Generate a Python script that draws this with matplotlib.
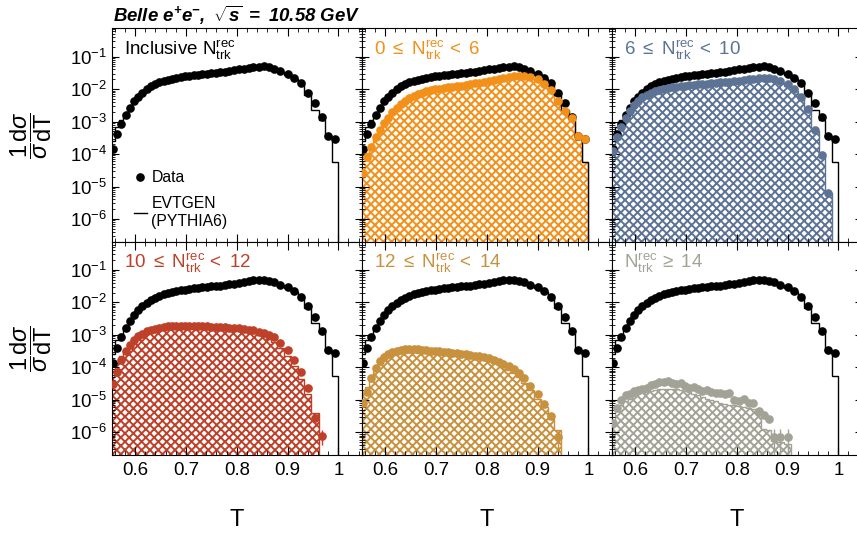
import numpy as np
import matplotlib
matplotlib.use('Agg')
import matplotlib.pyplot as plt
from matplotlib.lines import Line2D
from matplotlib.ticker import FixedLocator, FixedFormatter, MultipleLocator, LogLocator, NullFormatter

plt.rcParams['font.family'] = ['Liberation Sans', 'DejaVu Sans']
plt.rcParams['mathtext.fontset'] = 'custom'
plt.rcParams['mathtext.rm'] = 'Liberation Sans'
plt.rcParams['mathtext.it'] = 'Liberation Sans:italic'
plt.rcParams['mathtext.bf'] = 'Liberation Sans:bold:italic'
plt.rcParams['hatch.linewidth'] = 1.4

# thrust bin edges
edges = [0.553, 0.561, 0.569, 0.577, 0.586, 0.594, 0.602, 0.610, 0.619, 0.627,
         0.635, 0.644, 0.652, 0.660, 0.669, 0.677, 0.686, 0.694, 0.703, 0.711,
         0.720, 0.728, 0.737, 0.746, 0.754, 0.763, 0.772, 0.781, 0.790, 0.799,
         0.809, 0.819, 0.828, 0.838, 0.848, 0.858, 0.868, 0.879, 0.893, 0.907,
         0.920, 0.933, 0.946, 0.961, 0.974, 0.987, 1.000]

# inclusive N_trk (black, shown in every panel)
incl_data = [1.4e-4, 4.1e-4, 8.5e-4, 1.6e-3, 2.6e-3, 4.2e-3, 5.8e-3, 7.8e-3, 9.8e-3, 1.2e-2,
             1.4e-2, 1.6e-2, 1.8e-2, 1.95e-2, 2.1e-2, 2.25e-2, 2.4e-2, 2.5e-2, 2.6e-2, 2.7e-2,
             2.8e-2, 2.9e-2, 3.0e-2, 3.1e-2, 3.2e-2, 3.3e-2, 3.45e-2, 3.6e-2, 3.8e-2, 4.0e-2,
             4.25e-2, 4.5e-2, 4.75e-2, 4.9e-2, 4.95e-2, 4.7e-2, 4.2e-2, 3.5e-2, 2.9e-2, 2.2e-2,
             1.5e-2, 7.7e-3, 3.6e-3, 1.35e-3, 3.5e-4, 2.8e-4]
incl_mc = [2.5e-4, 7e-4, 1.1e-3, 1.7e-3, 2.7e-3, 4.1e-3, 5.7e-3, 7.6e-3, 9.6e-3, 1.18e-2,
           1.38e-2, 1.58e-2, 1.78e-2, 1.93e-2, 2.08e-2, 2.23e-2, 2.38e-2, 2.48e-2, 2.58e-2, 2.68e-2,
           2.78e-2, 2.88e-2, 2.98e-2, 3.08e-2, 3.18e-2, 3.28e-2, 3.42e-2, 3.58e-2, 3.78e-2, 3.98e-2,
           4.22e-2, 4.47e-2, 4.72e-2, 4.88e-2, 4.92e-2, 4.68e-2, 4.15e-2, 3.45e-2, 2.8e-2, 2.05e-2,
           1.4e-2, 6.6e-3, 2.3e-3, 1.15e-3, 3.3e-4, 5.5e-5]

# 0 <= N < 6
n0_data = [2.6e-5, 8.0e-5, 1.7e-4, 3.3e-4, 5.6e-4, 8.8e-4, 1.3e-3, 1.9e-3, 2.6e-3, 3.4e-3,
           4.3e-3, 5.2e-3, 6.1e-3, 7.0e-3, 7.8e-3, 8.5e-3, 9.1e-3, 9.7e-3, 1.02e-2, 1.07e-2,
           1.12e-2, 1.17e-2, 1.22e-2, 1.28e-2, 1.34e-2, 1.40e-2, 1.48e-2, 1.56e-2, 1.65e-2, 1.75e-2,
           1.87e-2, 2.00e-2, 2.15e-2, 2.30e-2, 2.45e-2, 2.55e-2, 2.50e-2, 2.30e-2, 2.00e-2, 1.40e-2,
           9.1e-3, 4.3e-3, 2.1e-3, 1.3e-3, 3.7e-4, 2.8e-4]
n0_mc = [6e-5, 1.1e-4, 1.8e-4, 3.0e-4, 5.0e-4, 7.9e-4, 1.17e-3, 1.7e-3, 2.35e-3, 3.1e-3,
         3.9e-3, 4.7e-3, 5.5e-3, 6.3e-3, 7.0e-3, 7.6e-3, 8.2e-3, 8.7e-3, 9.2e-3, 9.6e-3,
         1.01e-2, 1.05e-2, 1.1e-2, 1.15e-2, 1.2e-2, 1.26e-2, 1.33e-2, 1.4e-2, 1.48e-2, 1.57e-2,
         1.68e-2, 1.8e-2, 1.93e-2, 2.07e-2, 2.2e-2, 2.3e-2, 2.25e-2, 2.07e-2, 1.8e-2, 1.3e-2,
         8.5e-3, 4.0e-3, 1.9e-3, 1.05e-3, 3.3e-4, 5.5e-5]

# 6 <= N < 10
n6_data = [1.2e-4, 3.4e-4, 7.0e-4, 1.3e-3, 2.1e-3, 3.2e-3, 4.3e-3, 5.5e-3, 6.6e-3, 7.6e-3,
           8.5e-3, 9.3e-3, 1.0e-2, 1.06e-2, 1.12e-2, 1.17e-2, 1.22e-2, 1.26e-2, 1.3e-2, 1.34e-2,
           1.38e-2, 1.42e-2, 1.46e-2, 1.5e-2, 1.54e-2, 1.59e-2, 1.64e-2, 1.7e-2, 1.76e-2, 1.83e-2,
           1.9e-2, 1.98e-2, 2.06e-2, 2.14e-2, 2.2e-2, 2.2e-2, 2.1e-2, 1.75e-2, 1.4e-2, 9.8e-3,
           5.7e-3, 2.4e-3, 5.4e-4, 9.3e-5, 6.5e-6]
n6_mc = [1.3e-4, 3.2e-4, 6.4e-4, 1.18e-3, 1.9e-3, 2.9e-3, 3.9e-3, 5.0e-3, 6.0e-3, 6.9e-3,
         7.7e-3, 8.4e-3, 9.0e-3, 9.6e-3, 1.01e-2, 1.06e-2, 1.1e-2, 1.14e-2, 1.18e-2, 1.21e-2,
         1.25e-2, 1.28e-2, 1.32e-2, 1.35e-2, 1.39e-2, 1.43e-2, 1.48e-2, 1.53e-2, 1.59e-2, 1.65e-2,
         1.71e-2, 1.78e-2, 1.85e-2, 1.93e-2, 1.98e-2, 1.98e-2, 1.89e-2, 1.58e-2, 1.26e-2, 8.8e-3,
         5.2e-3, 2.2e-3, 5.0e-4, 9e-5, 6.5e-6]

# 10 <= N < 12
n10_data = [3.0e-5, 7.4e-5, 1.7e-4, 3.1e-4, 4.9e-4, 7.0e-4, 9.0e-4, 1.1e-3, 1.28e-3, 1.43e-3,
            1.57e-3, 1.68e-3, 1.77e-3, 1.83e-3, 1.87e-3, 1.89e-3, 1.9e-3, 1.9e-3, 1.89e-3, 1.88e-3,
            1.86e-3, 1.84e-3, 1.82e-3, 1.8e-3, 1.77e-3, 1.74e-3, 1.71e-3, 1.67e-3, 1.63e-3, 1.58e-3,
            1.52e-3, 1.45e-3, 1.37e-3, 1.27e-3, 1.15e-3, 1.0e-3, 8.5e-4, 5.6e-4, 3.4e-4, 1.7e-4,
            7.4e-5, 2.3e-5, 2.8e-6, 8e-7]
n10_mc = [8e-5, 1.4e-4, 2.2e-4, 3.3e-4, 4.7e-4, 6.4e-4, 8.2e-4, 1.0e-3, 1.18e-3, 1.33e-3,
          1.46e-3, 1.56e-3, 1.64e-3, 1.7e-3, 1.73e-3, 1.75e-3, 1.75e-3, 1.74e-3, 1.73e-3, 1.72e-3,
          1.7e-3, 1.68e-3, 1.66e-3, 1.63e-3, 1.6e-3, 1.57e-3, 1.54e-3, 1.5e-3, 1.46e-3, 1.41e-3,
          1.35e-3, 1.27e-3, 1.18e-3, 1.07e-3, 9.3e-4, 7.7e-4, 5.9e-4, 4.0e-4, 2.3e-4, 1.1e-4,
          4.5e-5, 1.5e-5, 4e-6]
n10_err = {44: 4e-7}

# 12 <= N < 14
n12_data = [8e-6, 1.8e-5, 4.6e-5, 9.8e-5, 1.6e-4, 2.1e-4, 2.6e-4, 3.0e-4, 3.25e-4, 3.45e-4,
            3.6e-4, 3.65e-4, 3.65e-4, 3.6e-4, 3.5e-4, 3.4e-4, 3.3e-4, 3.2e-4, 3.1e-4, 3.0e-4,
            2.9e-4, 2.8e-4, 2.7e-4, 2.6e-4, 2.5e-4, 2.4e-4, 2.3e-4, 2.2e-4, 2.05e-4, 1.9e-4,
            1.7e-4, 1.5e-4, 1.3e-4, 1.1e-4, 8.8e-5, 6.6e-5, 4.6e-5, 2.7e-5, 1.5e-5, 7.6e-6,
            3.2e-6, 7e-7]
n12_mc = [1.6e-5, 2.5e-5, 4.5e-5, 8e-5, 1.3e-4, 1.7e-4, 2.1e-4, 2.4e-4, 2.6e-4, 2.75e-4,
          2.85e-4, 2.9e-4, 2.9e-4, 2.85e-4, 2.8e-4, 2.75e-4, 2.7e-4, 2.6e-4, 2.5e-4, 2.45e-4,
          2.4e-4, 2.3e-4, 2.25e-4, 2.15e-4, 2.05e-4, 2.0e-4, 1.9e-4, 1.8e-4, 1.7e-4, 1.55e-4,
          1.4e-4, 1.25e-4, 1.05e-4, 8.5e-5, 6.8e-5, 5.0e-5, 3.4e-5, 2.0e-5, 1.1e-5, 6e-6,
          2.6e-6, 1.2e-6]
n12_err = {42: 4e-7}

# N >= 14
n14_data = [1.9e-6, 5.7e-6, 1.0e-5, 1.4e-5, 1.5e-5, 1.9e-5, 2.0e-5, 2.2e-5, 2.3e-5, 2.8e-5,
            3.0e-5, 3.6e-5, 3.5e-5, 3.7e-5, 3.3e-5, 3.1e-5, 3.2e-5, 2.6e-5, 2.4e-5, 2.5e-5,
            2.1e-5, 1.9e-5, 2.0e-5, 1.7e-5, 1.6e-5, 1.6e-5, 1.55e-5, 1.6e-5, 9.8e-6, 9.5e-6,
            1.05e-5, 8.1e-6, 8.3e-6, 4.6e-6, 3.4e-6, 2.6e-6, 7e-7, 7e-7, 7e-7]
n14_mc = [2.2e-6, 4.5e-6, 7e-6, 9e-6, 1.1e-5, 1.3e-5, 1.5e-5, 1.6e-5, 1.75e-5, 1.9e-5,
          2.0e-5, 2.1e-5, 2.15e-5, 2.2e-5, 2.2e-5, 2.1e-5, 2.0e-5, 1.9e-5, 1.7e-5, 1.5e-5,
          1.4e-5, 1.25e-5, 1.1e-5, 1.0e-5, 9e-6, 8.3e-6, 7.7e-6, 7.2e-6, 6.8e-6, 6.3e-6,
          5.9e-6, 5.6e-6, 5.3e-6, 5e-6, 1.3e-6, 1.2e-6, 5.5e-7, 5e-7, 4.5e-7]
n14_err = {37: 6e-7, 38: 6e-7, 39: 6e-7}

nlab = r'\mathrm{N}^{\mathrm{rec}}_{\mathrm{trk}}'
labels = [r'Inclusive $' + nlab + '$',
          r'$0\ \leq\ ' + nlab + r'\, <\ 6$',
          r'$6\ \leq\ ' + nlab + r'\, <\ 10$',
          r'$10\ \leq\ ' + nlab + r'\, <\ 12$',
          r'$12\ \leq\ ' + nlab + r'\, <\ 14$',
          r'$' + nlab + r'\, \geq\ 14$']
colors = ['black', '#f39019', '#5c7396', '#be4029', '#c8913e', '#a2a296']
panel_data = [None, n0_data, n6_data, n10_data, n12_data, n14_data]
panel_mc = [None, n0_mc, n6_mc, n10_mc, n12_mc, n14_mc]
panel_err = [{}, {}, {}, n10_err, n12_err, n14_err]
yticks = [1e-6, 1e-5, 1e-4, 1e-3, 1e-2, 1e-1]

edges = np.array(edges)
centers = 0.5 * (edges[1:] + edges[:-1])

W, H = 857.0, 535.0
fig = plt.figure(figsize=(W / 100, H / 100), dpi=100)

for k in range(6):
    row, col = divmod(k, 3)
    x0 = 111.7 + 250 * col
    y0 = 28.3 + 213.4 * row
    ax = fig.add_axes([x0 / W, 1 - (y0 + 213.4) / H, 250 / W, 213.4 / H])
    c = colors[k]

    mc = panel_mc[k]
    if mc is not None:
        ax.stairs(mc, edges[:len(mc) + 1], baseline=1e-9, fill=True, facecolor='none',
                  edgecolor=c, hatch='xxxx', lw=1, zorder=1)
    ax.stairs(incl_mc, edges, baseline=1e-9, color='k', lw=1, zorder=2)
    ax.plot(centers, incl_data, 'o', color='k', ms=5.2, zorder=3)
    d = panel_data[k]
    if d is not None:
        ax.plot(centers[:len(d)], d, 'o', color=c, ms=5.2, zorder=4)
        for i, e in panel_err[k].items():
            ax.errorbar([centers[i - 1]], [d[i - 1]], yerr=[e], fmt='none', ecolor=c, lw=1, zorder=4)

    ax.set_yscale('log')
    ax.set_xlim(0.554, 1.046)
    ax.set_ylim(2e-7, 0.74)
    ax.xaxis.set_major_locator(FixedLocator([0.6, 0.7, 0.8, 0.9, 1.0]))
    ax.xaxis.set_major_formatter(FixedFormatter(['0.6', '0.7', '0.8', '0.9', '1']))
    ax.xaxis.set_minor_locator(MultipleLocator(0.02))
    ax.yaxis.set_major_locator(FixedLocator(yticks))
    ax.yaxis.set_minor_locator(LogLocator(base=10, subs=np.arange(2, 10), numticks=20))
    ax.yaxis.set_minor_formatter(NullFormatter())
    ax.tick_params(which='both', direction='in', top=True, right=True, labelsize=13.4)
    ax.tick_params(axis='x', which='major', length=6, pad=5)
    ax.tick_params(axis='x', which='minor', length=3)
    ax.tick_params(axis='y', which='major', length=5, pad=3)
    ax.tick_params(axis='y', which='minor', length=2.5)
    ax.tick_params(labelbottom=(row == 1), labelleft=(col == 0))
    for s in ax.spines.values():
        s.set_linewidth(0.8)

    ax.text(0.048, 0.875, labels[k], transform=ax.transAxes, color=c,
            fontsize=13.5, va='baseline')

    if k == 0:
        handles = [Line2D([], [], marker='o', ls='none', color='k', ms=5.2),
                   Line2D([], [], color='k', lw=1)]
        ax.legend(handles, ['Data', 'EVTGEN\n(PYTHIA6)'], loc='upper left',
                  bbox_to_anchor=(0.09, 0.335), frameon=False, fontsize=11.3,
                  handlelength=0.8, handletextpad=0.3, labelspacing=0.7,
                  borderpad=0, borderaxespad=0)

ylab = r'$\dfrac{1}{\sigma}\dfrac{\mathrm{d}\sigma}{\mathrm{dT}}$'
for yc in [135.0, 348.3]:
    fig.text(31 / W, 1 - yc / H, ylab, rotation=90, ha='center', va='center', fontsize=17)
for xc in [236.7, 486.7, 736.7]:
    fig.text(xc / W, 1 - 520 / H, 'T', ha='center', va='center', fontsize=17)

fig.text(113 / W, 1 - 21.7 / H,
         r'$\mathbf{Belle\ e^{+}e^{-},\ \sqrt{s}\ =\ 10.58\ GeV}$',
         fontsize=13.4, va='baseline')

fig.savefig('out.png', dpi=100)
